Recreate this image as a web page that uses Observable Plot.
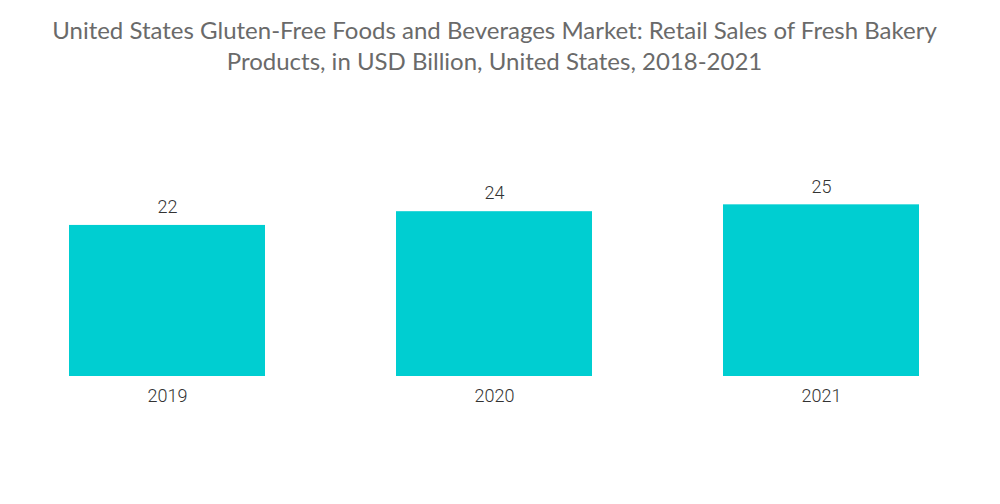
<!DOCTYPE html>
<html>
<head>
<meta charset="utf-8">
<script src="https://cdn.jsdelivr.net/npm/d3@7"></script>
<script src="https://cdn.jsdelivr.net/npm/@observablehq/plot@0.6"></script>
<style>
  html, body { margin: 0; padding: 0; background: #fff; width: 1000px; height: 504px; overflow: hidden; }
  #title { height: 100px; box-sizing: border-box; padding-top: 14px; padding-right: 11px; text-align: center; font-family: Lato, "Open Sans", sans-serif; font-size: 24px; line-height: 31px; color: #6a6a6a; }
  #chart svg { display: block; }
</style>
</head>
<body>
<div id="title">United States Gluten-Free Foods and Beverages Market: Retail Sales of Fresh Bakery<br>Products, in USD Billion, United States, 2018-2021</div>
<div id="chart"></div>
<script>
const years = ["2019", "2020", "2021"];
const sales = [22, 24, 25];
const data = years.map((year, i) => ({year, value: sales[i]}));

const chart = Plot.plot({
  width: 1000,
  height: 404,
  marginLeft: 4,
  marginRight: 15,
  marginTop: 70,
  marginBottom: 128,
  style: {fontFamily: "Roboto, sans-serif", background: "#fff"},
  x: {domain: years, paddingInner: 0.4, paddingOuter: 0.2, label: null},
  y: {domain: [0, 30], axis: null},
  marks: [
    Plot.barY(data, {x: "year", y: "value", fill: "#00CED1"}),
    Plot.text(data, {x: "year", y: "value", text: d => String(d.value), dy: -18, fontSize: 18, fontWeight: 300, fill: "#333"}),
    Plot.axisX({tickSize: 0, tickPadding: 13, fontSize: 18, fontWeight: 300, color: "#333", label: null})
  ]
});
document.getElementById("chart").appendChild(chart);
</script>
</body>
</html>
